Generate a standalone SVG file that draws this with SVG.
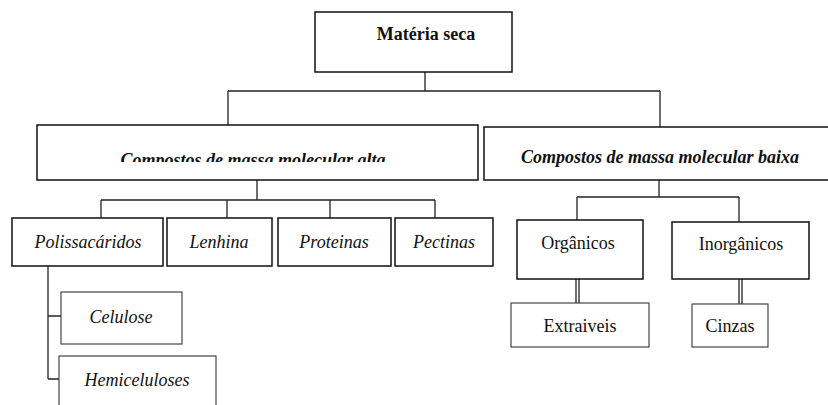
<svg xmlns="http://www.w3.org/2000/svg" width="828" height="405" viewBox="0 0 828 405">
<style>
.box{fill:#fff;stroke:#111;stroke-width:1.5}
.thin{fill:#fff;stroke:#333;stroke-width:1.1}
.ln{fill:none;stroke:#222;stroke-width:1.3}
.hb{font-family:"Liberation Serif",serif;font-weight:bold;font-size:18px;fill:#111}
.bi{font-family:"Liberation Serif",serif;font-weight:bold;font-style:italic;font-size:18px;fill:#111}
.it{font-family:"Liberation Serif",serif;font-style:italic;font-size:18px;fill:#111}
.rm{font-family:"Liberation Serif",serif;font-size:18px;fill:#111}
</style>
<defs>
<clipPath id="clipAlta"><rect x="37" y="125" width="441" height="37"/></clipPath>
</defs>
<g id="connectors">
<path class="ln" d="M425 72V91M228 91H660M228 91V125M660 91V127"/>
<path class="ln" d="M257 180V200M101 200H435M101 200V218M227 200V218M330 200V218M435 200V218"/>
<path class="ln" d="M48 266V379M48 316H61M48 379H59"/>
<path class="ln" d="M659 180V197M577 197H739M577 197V220M739 197V222"/>
<path class="ln" d="M576 279V303M579 279V303M739 279V304M742 279V304"/>
</g>
<g id="n-materia"><rect class="box" x="315" y="12" width="197" height="60"/><text class="hb" x="426" y="40" text-anchor="middle">Matéria seca</text></g>
<g id="n-alta"><rect class="box" x="37" y="125" width="441" height="55"/><text class="bi" x="253" y="166" text-anchor="middle" clip-path="url(#clipAlta)">Compostos de massa molecular alta</text></g>
<g id="n-baixa"><rect class="box" x="484" y="127" width="350" height="53"/><text class="bi" x="660" y="163" text-anchor="middle">Compostos de massa molecular baixa</text></g>
<g id="n-polis"><rect class="box" x="12" y="218" width="151" height="48"/><text class="it" x="88" y="248" text-anchor="middle">Polissacáridos</text></g>
<g id="n-lenhina"><rect class="box" x="167" y="218" width="105" height="48"/><text class="it" x="219" y="248" text-anchor="middle">Lenhina</text></g>
<g id="n-proteinas"><rect class="box" x="278" y="218" width="113" height="48"/><text class="it" x="334" y="248" text-anchor="middle">Proteinas</text></g>
<g id="n-pectinas"><rect class="box" x="395" y="218" width="98" height="48"/><text class="it" x="444" y="248" text-anchor="middle">Pectinas</text></g>
<g id="n-celulose"><rect class="thin" x="61" y="292" width="121" height="52"/><text class="it" x="121" y="323" text-anchor="middle">Celulose</text></g>
<g id="n-hemi"><rect class="thin" x="59" y="356" width="157" height="60"/><text class="it" x="137" y="386" text-anchor="middle">Hemiceluloses</text></g>
<g id="n-organicos"><rect class="box" x="517" y="220" width="126" height="59"/><text class="rm" x="578" y="249" text-anchor="middle">Orgânicos</text></g>
<g id="n-inorganicos"><rect class="box" x="672" y="222" width="137" height="57"/><text class="rm" x="741" y="250" text-anchor="middle">Inorgânicos</text></g>
<g id="n-extraiveis"><rect class="thin" x="511" y="303" width="138" height="44"/><text class="rm" x="580" y="332" text-anchor="middle">Extraiveis</text></g>
<g id="n-cinzas"><rect class="thin" x="692" y="304" width="76" height="43"/><text class="rm" x="730" y="332" text-anchor="middle">Cinzas</text></g>
</svg>
